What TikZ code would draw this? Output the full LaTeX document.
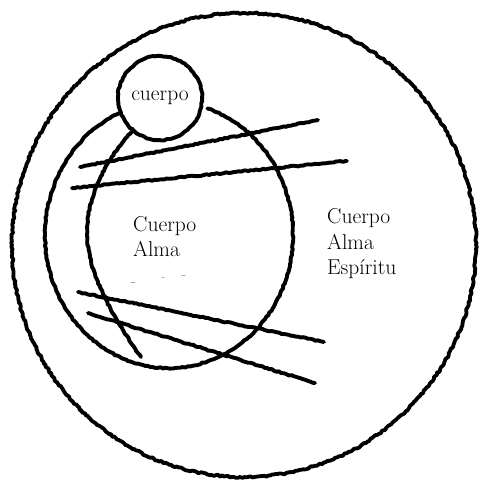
\documentclass[tikz,border=0pt]{standalone}
\usetikzlibrary{decorations.pathmorphing}
\tikzset{
  rough/.style={decorate, decoration={random steps, segment length=2.5pt, amplitude=0.6pt}},
  rougher/.style={decorate, decoration={random steps, segment length=2pt, amplitude=0.9pt}},
  stroke/.style={line width=3.9pt, black, line cap=round, line join=round},
  ring/.style={circle, draw, stroke, inner sep=0pt},
  lbl/.style={font=\fontsize{21.5}{25}\selectfont, inner sep=0pt, anchor=base west},
  faint/.style={line width=0.8pt, black!35, line cap=round}
}
\begin{document}
\begin{tikzpicture}[x=1pt, y=-1pt]
\useasboundingbox (0,0) rectangle (481,483);
% outer circle
\node[ring, rougher, line width=3.8pt, minimum size=464pt] (outer) at (244,245) {};
% small circle with text
\node[ring, rough, line width=3.9pt, minimum size=84pt, font=\fontsize{21.5}{25}\selectfont] (cuerpo) at (160,98) {cuerpo};
% big open ellipse (arc A)
\coordinate (arcA) at (118.6,113.5);
\draw[stroke, rough] (arcA) arc[start angle=114, end angle=432, x radius=124pt, y radius=133pt];
% inner left curve (B)
\coordinate (bmid) at (87,235);
\coordinate (bend) at (141,357);
\draw[stroke, rough] (cuerpo.-130) .. controls (105,160) and (86,200) .. (bmid)
   .. controls (88,275) and (115,320) .. (bend);
% crossing lines
\coordinate (a1) at (80,167);  \coordinate (b1) at (318,120);
\coordinate (a2) at (72,188);  \coordinate (b2) at (347,161);
\coordinate (a3) at (78,292);  \coordinate (b3) at (324,342);
\coordinate (a4) at (88,313);  \coordinate (b4) at (315,383);
\draw[stroke, rough] (a1) -- (b1);
\draw[stroke, rough] (a2) -- (b2);
\draw[stroke, rough] (a3) -- (b3);
\draw[stroke, rough] (a4) -- (b4);
% labels
\node[lbl] (c2) at (133,231) {Cuerpo};
\node[lbl] (a2t) at (133,256) {Alma};
\node[lbl] (c3) at (327,223) {Cuerpo};
\node[lbl] (a3t) at (327,249) {Alma};
\node[lbl] (e3) at (327,274) {Espíritu};
% faint erased marks
\draw[faint] (131,282) -- (135,282);
\draw[faint] (162,277) -- (164,277);
\draw[faint] (182,275) -- (185,275);
\end{tikzpicture}
\end{document}
